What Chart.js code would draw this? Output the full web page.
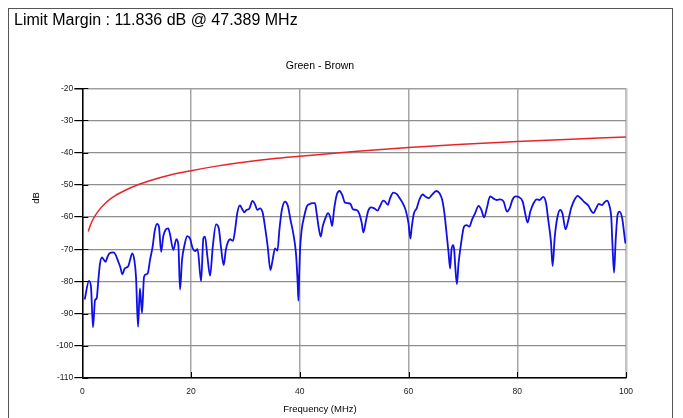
<!DOCTYPE html>
<html>
<head>
<meta charset="utf-8">
<script src="https://cdn.jsdelivr.net/npm/chart.js@4/dist/chart.umd.min.js"></script>
<style>
html,body{margin:0;padding:0;background:#fff;}
canvas{display:block;}
</style>
</head>
<body>
<canvas id="c" width="683" height="418"></canvas>
<script>
// ---- data ----
const headerText = 'Limit Margin : 11.836 dB @ 47.389 MHz';
const chartTitle = 'Green - Brown';
const xTitle = 'Frequency (MHz)';
const yTitle = 'dB';

const measFreq = [0.44,1.23,1.6,1.97,2.34,2.64,2.95,3.26,3.62,3.93,4.3,4.6,4.97,5.7,6.08,6.63,7.0,7.37,7.8,8.47,8.77,9.2,9.57,9.88,10.25,10.6,10.98,11.35,11.7,12.03,12.45,12.95,13.3,13.74,14.1,14.5,14.9,15.3,15.8,16.1,16.75,17.3,17.67,17.97,18.34,18.8,19.3,19.8,20.3,20.74,21.2,21.85,22.27,22.57,23.0,23.5,24.0,24.6,25.1,25.5,26.0,26.4,26.8,27.2,27.7,28.1,28.5,29.0,29.5,29.8,30.2,30.7,31.3,31.8,32.2,32.7,33.2,33.6,34.1,34.6,35.0,35.45,35.9,36.25,36.7,37.3,37.8,38.3,38.8,39.3,39.6,39.75,39.9,40.05,40.36,40.8,41.3,41.77,42.4,42.8,43.1,43.5,43.86,44.2,44.7,45.2,45.6,45.95,46.3,46.8,47.3,47.8,48.3,48.8,49.3,49.8,50.4,50.9,51.4,51.7,52.2,52.6,53.1,53.7,54.3,54.8,55.3,55.7,56.2,56.6,57.2,57.8,58.4,59.0,59.5,59.99,60.35,60.6,61.0,61.5,61.97,62.6,63.1,63.7,64.3,65.1,65.7,66.2,66.6,67.0,67.35,67.65,67.9,68.2,68.4,68.6,68.9,69.2,69.5,69.8,70.2,70.7,71.2,71.7,72.2,72.9,73.4,73.9,74.4,75.0,75.6,76.2,76.9,77.5,78.1,78.6,79.1,79.7,80.3,81.0,81.45,81.9,82.4,83.0,83.6,84.1,84.8,85.3,85.7,86.2,86.5,86.9,87.4,87.9,88.3,88.9,89.4,89.9,90.5,91.1,91.7,92.3,93.1,93.5,94.0,94.5,95.0,95.6,96.0,96.5,96.9,97.3,97.5,97.8,98.1,98.45,98.8,99.3,99.7,99.9];
const measLevel = [-85.6,-79.8,-81.7,-94.3,-85.8,-85.3,-79.6,-74.4,-72.5,-73.2,-73.9,-72.5,-71.3,-71.0,-71.6,-73.9,-75.6,-77.8,-76.0,-75.2,-73.4,-71.3,-73.4,-78.6,-94.1,-82.2,-89.8,-78.6,-77.8,-77.5,-73.4,-69.0,-64.5,-62.1,-63.0,-70.8,-65.9,-64.0,-63.5,-65.1,-70.2,-66.9,-68.7,-82.5,-73.4,-68.7,-65.9,-66.6,-69.7,-70.6,-70.0,-79.9,-66.6,-66.1,-72.1,-78.2,-69.2,-62.3,-63.5,-69.2,-74.9,-70.2,-67.7,-66.9,-67.4,-64.0,-58.8,-56.4,-57.8,-58.5,-57.8,-57.4,-55.0,-56.2,-57.8,-57.3,-58.8,-63.0,-69.2,-76.5,-73.4,-69.7,-70.4,-64.0,-57.8,-55.2,-56.5,-60.9,-65.1,-71.3,-80.1,-86.0,-77.5,-70.2,-63.8,-59.9,-56.7,-56.0,-55.7,-55.7,-58.8,-63.5,-66.1,-63.0,-60.4,-58.8,-60.1,-62.8,-57.8,-53.1,-51.9,-53.1,-55.5,-55.7,-55.9,-57.6,-57.8,-58.8,-61.9,-64.8,-60.9,-58.0,-57.0,-57.3,-58.0,-56.5,-54.9,-55.2,-56.2,-54.2,-52.4,-52.8,-54.2,-55.9,-58.0,-61.9,-66.7,-63.0,-58.8,-57.3,-54.7,-53.0,-53.6,-54.1,-53.1,-51.9,-52.6,-54.7,-58.8,-65.1,-70.8,-76.0,-70.2,-68.7,-70.2,-75.4,-80.9,-74.4,-70.2,-66.6,-63.0,-62.5,-63.0,-60.7,-59.0,-56.5,-57.8,-60.1,-57.3,-53.6,-54.2,-54.7,-54.5,-55.2,-58.3,-57.3,-54.7,-53.6,-53.8,-55.2,-58.8,-61.7,-58.3,-55.7,-54.5,-54.7,-53.7,-55.7,-60.9,-67.7,-75.2,-66.1,-59.9,-57.8,-58.8,-63.8,-60.9,-57.3,-54.7,-53.4,-54.2,-55.3,-56.5,-57.8,-58.8,-57.3,-55.9,-56.3,-55.5,-54.9,-56.2,-60.4,-68.2,-77.3,-67.2,-59.3,-58.3,-60.4,-65.6,-68.2];

const limitFreq = [1.1,1.5,2,3,4,5,6,8,10,13,16,20,25,30,35,40,50,60,70,80,90,100];
const limitLevel = [-64.5,-62.5,-60.6,-58.0,-56.1,-54.6,-53.4,-51.6,-50.1,-48.4,-47.0,-45.6,-44.1,-42.9,-41.9,-41.1,-39.6,-38.4,-37.4,-36.5,-35.8,-35.1];

const xTicks = [0,20,40,60,80,100];
const yTicks = [-110,-100,-90,-80,-70,-60,-50,-40,-30,-20];

// ---- chart ----
const FONT = '"Liberation Sans", Arial, sans-serif';
const toPts = (xs, ys) => xs.map((x, i) => ({x: x, y: ys[i]}));

const decor = {
  id: 'decor',
  beforeDraw(chart) {
    const ctx = chart.ctx;
    ctx.save();
    ctx.fillStyle = '#fff';
    ctx.fillRect(0, 0, chart.width, chart.height);
    ctx.restore();
  },
  afterDatasetsDraw(chart) {
    const {ctx, chartArea: a, scales: {x, y}} = chart;
    ctx.save();
    ctx.strokeStyle = '#000';
    ctx.lineWidth = 1;
    y.ticks.forEach(t => {
      const py = Math.round(y.getPixelForValue(t.value)) + 0.5;
      ctx.beginPath(); ctx.moveTo(a.left, py); ctx.lineTo(a.left + 6, py); ctx.stroke();
    });
    x.ticks.forEach(t => {
      const px = Math.round(x.getPixelForValue(t.value)) + 0.5;
      ctx.beginPath(); ctx.moveTo(px, a.bottom); ctx.lineTo(px, a.bottom - 6); ctx.stroke();
    });
    ctx.restore();
  },
  afterDraw(chart) {
    const ctx = chart.ctx;
    ctx.save();
    ctx.strokeStyle = '#555';
    ctx.lineWidth = 1;
    ctx.strokeRect(8.5, 8.5, 664, 420);
    ctx.fillStyle = '#000';
    ctx.textBaseline = 'middle';
    ctx.textAlign = 'left';
    ctx.font = '16px ' + FONT;
    ctx.fillText(headerText, 14, 21);
    ctx.font = '9.5px ' + FONT;
    ctx.translate(36, 198);
    ctx.rotate(-Math.PI / 2);
    ctx.textAlign = 'center';
    ctx.fillText(yTitle, 0, 0);
    ctx.restore();
  }
};

new Chart(document.getElementById('c'), {
  type: 'line',
  data: {
    datasets: [
      {
        label: 'Limit',
        data: toPts(limitFreq, limitLevel),
        borderColor: '#e8262a',
        borderWidth: 1.5,
        pointRadius: 0,
        cubicInterpolationMode: 'monotone',
        fill: false
      },
      {
        label: 'Green - Brown',
        data: toPts(measFreq, measLevel),
        borderColor: '#1010e6',
        borderWidth: 1.8,
        pointRadius: 0,
        cubicInterpolationMode: 'monotone',
        fill: false
      }
    ]
  },
  options: {
    responsive: false,
    animation: false,
    devicePixelRatio: 1,
    layout: {padding: {left: 14, right: 57, top: 0, bottom: 0}},
    plugins: {
      legend: {display: false},
      tooltip: {enabled: false},
      title: {
        display: true,
        text: chartTitle,
        color: '#000',
        font: {family: FONT, size: 10.5, weight: 'normal'},
        padding: {top: 59.7, bottom: 16}
      },
      subtitle: {
        display: true,
        position: 'bottom',
        text: xTitle,
        color: '#000',
        font: {family: FONT, size: 9.5, weight: 'normal'},
        padding: {top: 0, bottom: 3.3}
      }
    },
    scales: {
      x: {
        type: 'linear',
        min: 0, max: 100,
        afterFit(s) { s.height = 25.3; },
        afterBuildTicks(s) { s.ticks = xTicks.map(v => ({value: v})); },
        ticks: {color: '#222', font: {family: FONT, size: 8.5}, padding: 9, maxRotation: 0},
        grid: {
          drawTicks: false,
          color: c => (c.tick && c.tick.value === 100) ? '#c4c4c4' : '#a6a6a6',
          lineWidth: c => (c.tick && c.tick.value === 100) ? 2.5 : 1.5
        },
        border: {color: '#000', width: 1.5}
      },
      y: {
        min: -110, max: -20,
        afterFit(s) { s.width = 68.3; },
        afterBuildTicks(s) { s.ticks = yTicks.map(v => ({value: v})); },
        ticks: {color: '#222', font: {family: FONT, size: 8.5}, padding: 1},
        grid: {
          tickLength: 8,
          tickColor: '#000',
          color: c => (c.tick && c.tick.value === -20) ? '#a0a0a0' : '#8e8e8e',
          lineWidth: c => (c.tick && c.tick.value === -20) ? 1.5 : 1.2
        },
        border: {color: '#000', width: 1.5}
      }
    }
  },
  plugins: [decor]
});
</script>
</body>
</html>
